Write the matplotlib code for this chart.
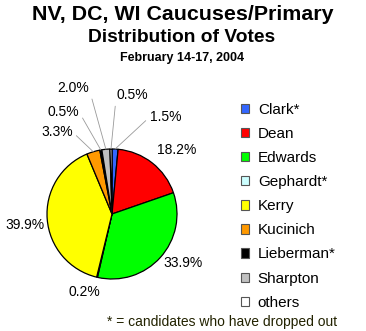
import matplotlib
matplotlib.use("Agg")
import matplotlib.pyplot as plt
from matplotlib.patches import Patch
import numpy as np

plt.rcParams['font.family'] = ['Liberation Sans', 'DejaVu Sans']

# ---- data ----
candidates = ["Clark*", "Dean", "Edwards", "Gephardt*", "Kerry",
              "Kucinich", "Lieberman*", "Sharpton", "others"]
shares = [1.5, 18.2, 33.9, 0.2, 39.9, 3.3, 0.5, 2.0, 0.5]
colors = ["#3366ff", "#ff0000", "#00ff00", "#ccffff", "#ffff00",
          "#ff9900", "#000000", "#c0c0c0", "#ffffff"]

# label placement (pie radius units) + whether a leader line is drawn
label_pos = [(0.82, 1.49), (1.0, 0.99), (1.09, -0.75), (-0.42, -1.2),
             (-1.34, -0.17), (-0.85, 1.26), (-0.75, 1.57), (-0.6, 1.94),
             (0.31, 1.83)]
leader = [True, False, False, False, False, True, True, True, True]

W, H = 366, 331
fig = plt.figure(figsize=(W / 100, H / 100), dpi=100)

fig.text(183 / W, 1 - 15 / H, "NV, DC, WI Caucuses/Primary", ha="center",
         va="center", fontsize=15.4, fontweight="bold")
fig.text(182 / W, 1 - 38 / H, "Distribution of Votes", ha="center",
         va="center", fontsize=13.8, fontweight="bold")
fig.text(182 / W, 1 - 57.5 / H, "February 14-17, 2004", ha="center",
         va="center", fontsize=9, fontweight="bold")

# axes laid out so that one pie unit = 65 px, centre at (112, 214) px
r_px, cx, cy = 65, 112, 214
x0, x1, y0, y1 = 0, 230, 70, 320
ax = fig.add_axes([x0 / W, 1 - y1 / H, (x1 - x0) / W, (y1 - y0) / H])
wedges, _ = ax.pie(shares, colors=colors, startangle=90, counterclock=False,
                   wedgeprops=dict(edgecolor="black", linewidth=0.9))
ax.set_xlim((x0 - cx) / r_px, (x1 - cx) / r_px)
ax.set_ylim((cy - y1) / r_px, (cy - y0) / r_px)
ax.set_aspect("auto")
ax.axis("off")

for w, v, (lx, ly), ld in zip(wedges, shares, label_pos, leader):
    txt = f"{v:.1f}%"
    if ld:
        ang = np.deg2rad((w.theta1 + w.theta2) / 2)
        side = (0, 0.5) if lx > 0 else (1, 0.5)
        ax.annotate(txt, xy=(np.cos(ang), np.sin(ang)), xytext=(lx, ly),
                    ha="center", va="center", fontsize=10,
                    arrowprops=dict(arrowstyle="-", color="#999999", lw=0.6,
                                    shrinkA=1, shrinkB=0, relpos=side))
    else:
        ax.text(lx, ly, txt, ha="center", va="center", fontsize=10)

handles = [Patch(facecolor=c, edgecolor="#555555", linewidth=0.8) for c in colors]
fig.legend(handles, candidates, loc="upper left",
           bbox_to_anchor=(241 / W, 1 - 103 / H), frameon=False, fontsize=11,
           handlelength=0.55, handleheight=0.55, handletextpad=0.55,
           labelspacing=0.66, borderpad=0, borderaxespad=0)

fig.text(337 / W, 1 - 322 / H, "* = candidates who have dropped out",
         ha="right", va="center", fontsize=10, color="#222200")

fig.savefig("out.png", dpi=100)
